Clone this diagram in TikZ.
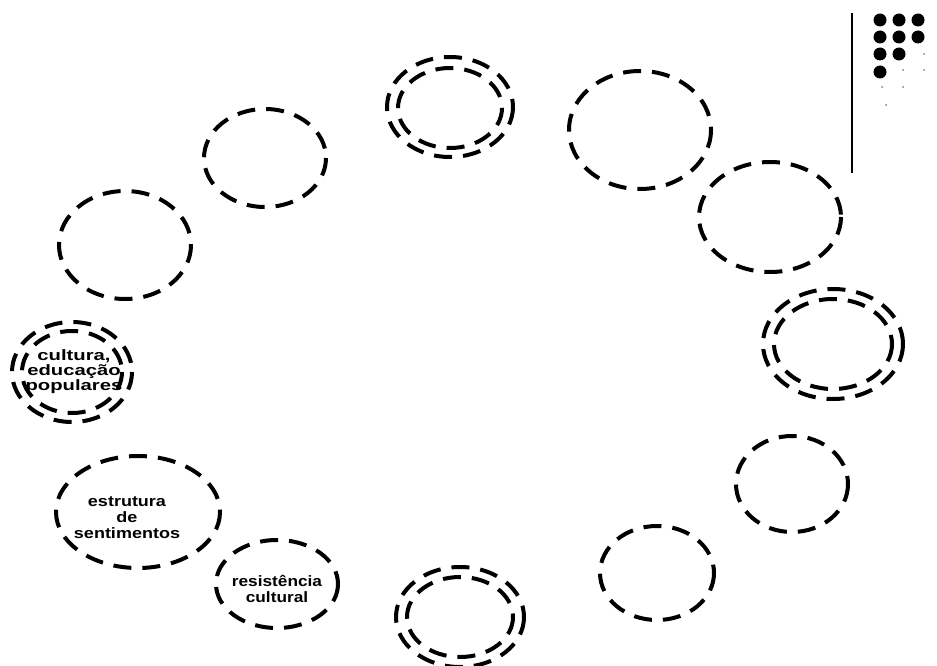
\documentclass[tikz,border=0pt]{standalone}
\usepackage{fontspec}
\setmainfont{Liberation Sans}
\newcommand{\sqtext}[3]{\scalebox{#1}[1]{\fontsize{15}{#2}\selectfont\bfseries\begin{tabular}{@{}c@{}}#3\end{tabular}}}
\begin{document}
\begin{tikzpicture}[x=1pt,y=-1pt,
  ring/.style={draw=black,line width=4pt,dash pattern=on 18pt off 11pt},
  lbl/.style={inner sep=0pt,align=center,text=black}]
\useasboundingbox (0,0) rectangle (937,666);
% single rings
\draw[ring] (265,158) ellipse [x radius=61,y radius=49];
\draw[ring] (125,245) ellipse [x radius=66,y radius=54];
\draw[ring] (138,512) ellipse [x radius=82,y radius=56];
\draw[ring] (277,584) ellipse [x radius=61,y radius=44];
\draw[ring] (640,130) ellipse [x radius=71,y radius=59];
\draw[ring] (770,217) ellipse [x radius=71,y radius=55];
\draw[ring] (792,484) ellipse [x radius=56,y radius=48];
\draw[ring] (657,573) ellipse [x radius=57,y radius=47];
% double rings
\draw[ring] (450,107) ellipse [x radius=63,y radius=50];
\draw[ring] (450,108) ellipse [x radius=52,y radius=40];
\draw[ring] (72,372) ellipse [x radius=60,y radius=50];
\draw[ring] (72,372) ellipse [x radius=50,y radius=41];
\draw[ring] (460,617) ellipse [x radius=64,y radius=50];
\draw[ring] (460,617) ellipse [x radius=53,y radius=40];
\draw[ring] (833,344) ellipse [x radius=70,y radius=55];
\draw[ring] (833,344) ellipse [x radius=59,y radius=45];
% labels
\node[lbl] (cep) at (74,372) {\sqtext{1.35}{14}{cultura,\\educação\\populares}};
\node[lbl] (est) at (127,519) {\sqtext{1.2}{16}{estrutura\\de\\sentimentos}};
\node[lbl] (res) at (277,591) {\sqtext{1.15}{14}{resistência\\cultural}};
% corner decoration
\draw[line width=2pt] (852,13) -- (852,173);
\foreach \x/\y in {880/20,899/20,918/20,880/37,899/37,918/37,880/54,899/54,880/72}
  \fill (\x,\y) circle [radius=6.5];
\foreach \x/\y in {924/54,903/70,924/70,882/87,903/87,886/105}
  \fill[gray] (\x,\y) circle [radius=1];
\end{tikzpicture}
\end{document}
